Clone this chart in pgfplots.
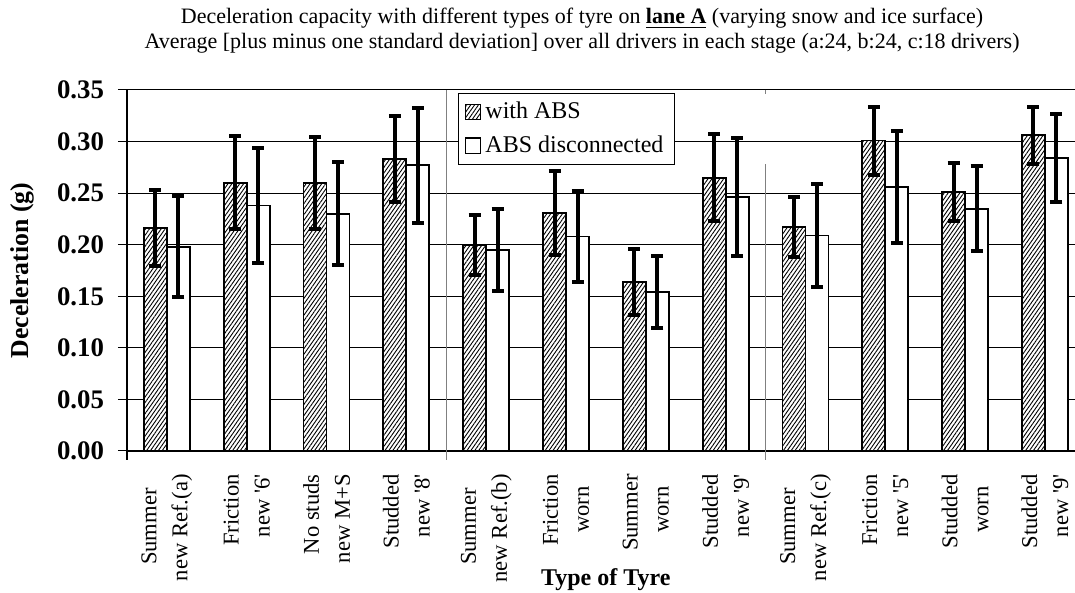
\documentclass[border=0pt]{standalone}
\usepackage{fontspec}
\setmainfont{Liberation Serif}
\usepackage{pgfplots}
\usepackage{pgfplotstable}
\pgfplotsset{compat=1.18}
\usetikzlibrary{patterns.meta}

% mean and one standard deviation
\pgfplotstableread{
x  abs    abserr  dis    diserr
1  0.216  0.037   0.198  0.049
2  0.260  0.045   0.238  0.056
3  0.260  0.0445  0.230  0.050
4  0.283  0.042   0.277  0.056
5  0.200  0.029   0.195  0.040
6  0.231  0.0405  0.208  0.044
7  0.164  0.0323  0.154  0.035
8  0.265  0.042   0.246  0.057
9  0.217  0.029   0.209  0.050
10 0.301  0.033   0.256  0.054
11 0.251  0.028   0.235  0.0415
12 0.306  0.0273  0.284  0.0428
}\tyres

\newcommand{\q}{\textquotesingle}

\begin{document}
\begin{tikzpicture}
\path[use as bounding box] (0,0) rectangle (537.5pt,296.5pt);
\begin{axis}[
  at={(63.5pt,71pt)}, anchor=south west,
  scale only axis, width=474pt, height=180.5pt,
  xmin=0.5, xmax=12.376, ymin=0, ymax=0.35,
  enlargelimits=false, clip=false,
  axis x line*=bottom, axis y line*=left,
  axis line style={line width=1pt},
  ybar=0pt, bar width=11.5pt,
  ytick={0,0.05,0.1,0.15,0.2,0.25,0.3,0.35},
  yticklabel style={/pgf/number format/fixed, /pgf/number format/fixed zerofill,
    /pgf/number format/precision=2, /pgf/number format/assume math mode=true,
    font=\bfseries\fontsize{13.4}{15}\selectfont},
  yticklabel shift=3.5pt,
  tick align=outside, major tick length=4.5pt,
  y tick style={black, line width=0.5pt},
  ymajorgrids, grid style={black, line width=0.5pt},
  xtick={1,...,12}, x tick style={draw=none},
  xticklabels={
    {Summer\hspace*{7pt}\\new Ref.(a)},
    {Friction\\new \q6\q},
    {No studs\\new M+S},
    {Studded\\new \q8\q},
    {Summer\hspace*{7pt}\\new Ref.(b)},
    {Friction\\worn\hspace*{6pt}},
    {Summer\\worn\hspace*{6pt}},
    {Studded\\new \q9\q},
    {Summer\hspace*{7pt}\\new Ref.(c)},
    {Friction\\new \q5\q},
    {Studded\\worn\hspace*{6pt}},
    {Studded\\new \q9\q}},
  x tick label style={rotate=90, anchor=east, align=right, inner sep=0pt,
    font=\fontsize{11.3}{15.5}\selectfont},
  xticklabel shift=7pt,
  ylabel={Deceleration (g)},
  ylabel style={at={(axis description cs:-0.1108,0.5)}, anchor=center, rotate=0,
    font=\bfseries\fontsize{12.9}{15}\selectfont},
  xlabel={Type of Tyre},
  xlabel style={at={(axis description cs:0.505,-0.355)}, anchor=center,
    font=\bfseries\fontsize{12}{14}\selectfont},
  title={Deceleration capacity with different types of tyre on \underline{\textbf{lane A}} (varying snow and ice surface)\\
    Average [plus minus one standard deviation] over all drivers in each stage (a:24, b:24, c:18 drivers)},
  title style={at={(axis description cs:0.48,1.130)}, anchor=center, align=center,
    font=\fontsize{11}{12.5}\selectfont},
  legend style={at={(axis description cs:0.3487,0.9928)}, anchor=north west,
    draw=black, line width=0.5pt, fill=white, font=\fontsize{12}{14}\selectfont,
    row sep=3pt, inner xsep=3.5pt, inner ysep=2.5pt},
  legend cell align=left,
  legend image code/.code={\draw[#1, line width=0.6pt] (0pt,-3.8pt) rectangle (7.6pt,3.8pt);},
]
\addplot[draw=black, line width=0.9pt, fill=white,
  postaction={pattern={Lines[angle=55,distance=1.6pt,line width=0.45pt]}},
  error bars/.cd, y dir=both, y explicit,
  error bar style={black, line width=2pt},
  error mark options={rotate=90, black, line width=2pt, mark size=3pt}]
  table[x=x, y=abs, y error=abserr] {\tyres};
\addlegendentry{with ABS}
\addplot[draw=black, line width=0.9pt, fill=white,
  error bars/.cd, y dir=both, y explicit,
  error bar style={black, line width=2pt},
  error mark options={rotate=90, black, line width=2pt, mark size=3pt}]
  table[x=x, y=dis, y error=diserr] {\tyres};
\addlegendentry{ABS disconnected}
% group separators and the ticks below the axis
\draw[black, line width=1pt] (axis cs:0.5,0) -- ++(0pt,-4.5pt);
\draw[gray, line width=0.5pt] (axis cs:4.5,0) ++(0pt,-4.5pt) -- (axis cs:4.5,0.35);
\draw[gray, line width=0.5pt] (axis cs:8.5,0) ++(0pt,-4.5pt) -- (axis cs:8.5,0.278);
\draw[gray, line width=0.5pt] (axis cs:8.5,0.35) -- ++(0pt,-2pt);
\end{axis}
\end{tikzpicture}
\end{document}
